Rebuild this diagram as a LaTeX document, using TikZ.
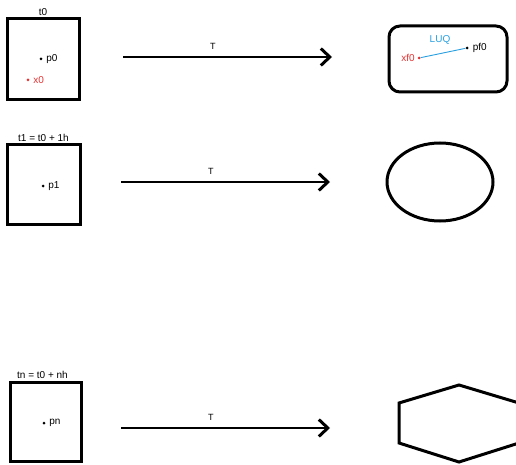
\documentclass[tikz,border=0pt]{standalone}
\usepackage{fontspec}
\setmainfont{Liberation Sans}
\usepackage{xcolor}
\usetikzlibrary{arrows.meta,positioning,shapes.geometric}
\definecolor{ptred}{RGB}{230,50,50}
\definecolor{luqblue}{RGB}{40,160,225}
\tikzset{
  statebox/.style={
    draw=black,
    line width=3pt,
    minimum width=72pt,
    minimum height=80pt,
    inner sep=0pt
  },
  imagebox/.style={draw=black, line width=3pt, inner sep=0pt},
  timelabel/.style={font=\fontsize{10}{11}\selectfont, inner sep=1pt},
  ptlabel/.style={font=\fontsize{10}{11}\selectfont, inner sep=1pt},
  ptdot/.style={circle, fill=black, inner sep=0pt, minimum size=3pt},
  maplabel/.style={pos=0.43, above=3pt, font=\fontsize{9}{10}\selectfont},
  flowarrow/.style={-{Straight Barb[length=9pt,width=17pt,line width=3pt]}, line width=2.6pt, draw=black}
}

\begin{document}
\begin{tikzpicture}[x=1pt,y=-1pt]
    \useasboundingbox (0,0) rectangle (516,465);

    % state boxes
    \node[statebox, minimum width=72pt, minimum height=81pt] (box0) at (43,59.5) {};
    \node[statebox, minimum width=73pt, minimum height=79pt] (box1) at (43.5,184.5) {};
    \node[statebox, minimum width=71pt, minimum height=79pt] (boxn) at (45.5,421.5) {};

    \node[timelabel, above=1pt of box0] (t0) {t0};
    \node[timelabel, above=1pt of box1] (t1) {t1 = t0 + 1h};
    \node[timelabel, above=1pt of boxn, xshift=-3pt] (tn) {tn = t0 + nh};

    \node[ptdot] (p0) at (41,59) {};
    \node[ptlabel, right=2.5pt of p0] {p0};
    \node[ptdot, fill=ptred] (x0) at (28,80) {};
    \node[ptlabel, right=2.5pt of x0, text=ptred] {x0};
    \node[ptdot] (p1) at (43,186) {};
    \node[ptlabel, right=2.5pt of p1] {p1};
    \node[ptdot] (pn) at (44,423) {};
    \node[ptlabel, right=2.5pt of pn] {pn};

    % arrows
    \coordinate (a0s) at (123,57);
    \coordinate (a0e) at (332,57);
    \coordinate (a1s) at (121,182);
    \coordinate (a1e) at (330,182);
    \coordinate (ans) at (121,428);
    \coordinate (ane) at (330,428);
    \draw[flowarrow] (a0s) -- node[maplabel] {T} (a0e);
    \draw[flowarrow] (a1s) -- node[maplabel] {T} (a1e);
    \draw[flowarrow] (ans) -- node[maplabel] {T} (ane);

    % images
    \node[imagebox, rounded corners=11pt, minimum width=118pt, minimum height=66pt] (img0) at (448,59) {};
    \node[ptdot, fill=ptred] (xf0) at (419,58) {};
    \node[ptlabel, left=1.5pt of xf0, text=ptred] {xf0};
    \node[ptdot] (pf0) at (467,48) {};
    \node[ptlabel, right=3pt of pf0] {pf0};
    \draw[luqblue, line width=0.9pt] (xf0) -- (pf0);
    \node[ptlabel, text=luqblue] (luq) at (440,40) {LUQ};

    \node[imagebox, ellipse, minimum width=106pt, minimum height=78pt] (img1) at (440,182) {};

    \draw[line width=3pt, line join=miter] (459,385) -- (399,403) -- (399,443) -- (459,462)
      -- (519,443) -- (519,403) -- cycle;
  \end{tikzpicture}
\end{document}
